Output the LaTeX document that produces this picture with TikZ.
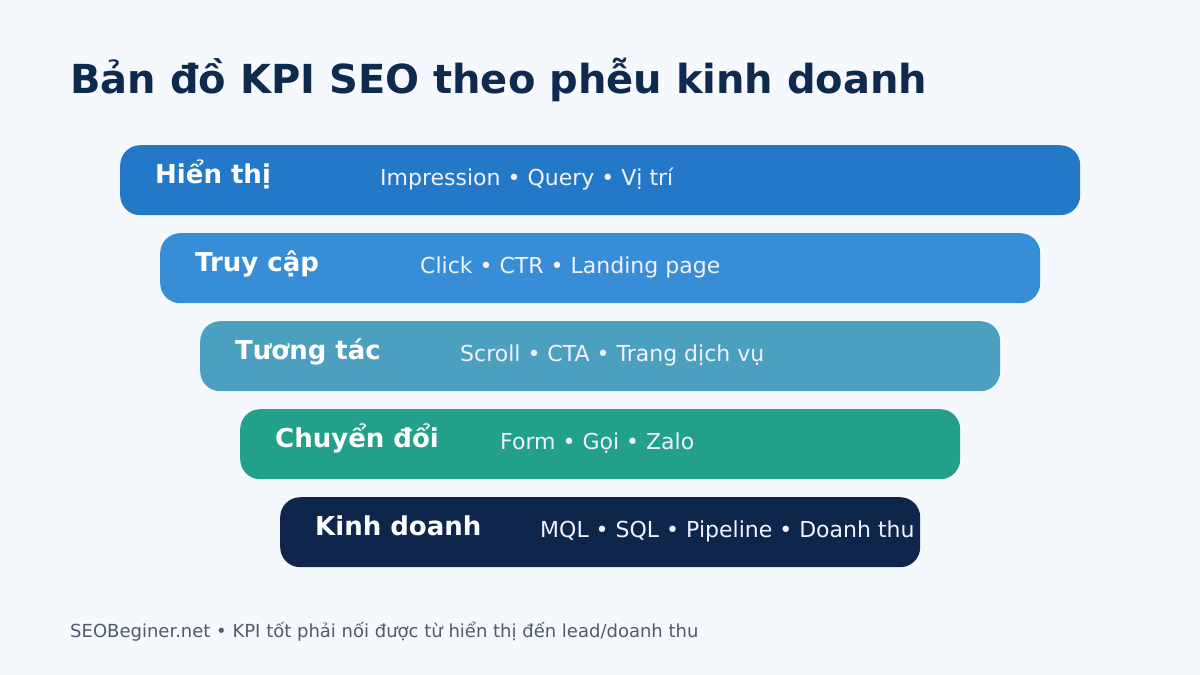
\documentclass[tikz,border=0pt]{standalone}
\usepackage{fontspec}
\setmainfont{DejaVu Sans}
\definecolor{bgc}{HTML}{F5F9FD}
\definecolor{titlec}{HTML}{0F2A4F}
\definecolor{footc}{HTML}{4F5B6B}
\definecolor{c1}{HTML}{2378C8}
\definecolor{c2}{HTML}{378ED6}
\definecolor{c3}{HTML}{4BA0C0}
\definecolor{c4}{HTML}{22A08A}
\definecolor{c5}{HTML}{0E264C}
\tikzset{
  barbox/.style={rectangle, rounded corners=20pt, inner sep=0pt, anchor=north west, minimum height=70pt},
  stagelbl/.style={anchor=base west, inner sep=0pt, text=white, font=\bfseries\fontsize{26}{30}\selectfont},
  metriclbl/.style={anchor=base west, inner sep=0pt, text=white!95!blue, font=\fontsize{22}{26}\selectfont},
}
\begin{document}
\begin{tikzpicture}[x=1pt,y=-1pt]
\fill[bgc] (0,0) rectangle (1200,675);
\useasboundingbox (0,0) rectangle (1200,675);
\node[anchor=base west, inner sep=0pt, text=titlec, font=\bfseries\fontsize{40}{48}\selectfont] (title) at (70,93) {Bản đồ KPI SEO theo phễu kinh doanh};
% bars
\node[barbox, fill=c1, minimum width=960pt] (b1) at (120,145) {};
\node[barbox, fill=c2, minimum width=880pt] (b2) at (160,233) {};
\node[barbox, fill=c3, minimum width=800pt] (b3) at (200,321) {};
\node[barbox, fill=c4, minimum width=720pt] (b4) at (240,409) {};
\node[barbox, fill=c5, minimum width=640pt] (b5) at (280,497) {};
% stage labels
\node[stagelbl] (s1) at (155,183) {Hiển thị};
\node[stagelbl] (s2) at (195,271) {Truy cập};
\node[stagelbl] (s3) at (235,359) {Tương tác};
\node[stagelbl] (s4) at (275,447) {Chuyển đổi};
\node[stagelbl] (s5) at (315,535) {Kinh doanh};
% metrics
\node[metriclbl] (m1) at (380,185) {Impression • Query • Vị trí};
\node[metriclbl] (m2) at (420,273) {Click • CTR • Landing page};
\node[metriclbl] (m3) at (460,361) {Scroll • CTA • Trang dịch vụ};
\node[metriclbl] (m4) at (500,449) {Form • Gọi • Zalo};
\node[metriclbl] (m5) at (540,537) {MQL • SQL • Pipeline • Doanh thu};
% footer
\node[anchor=base west, inner sep=0pt, text=footc, font=\fontsize{18}{21}\selectfont] (foot) at (70,637) {SEOBeginer.net • KPI tốt phải nối được từ hiển thị đến lead/doanh thu};
\end{tikzpicture}
\end{document}
